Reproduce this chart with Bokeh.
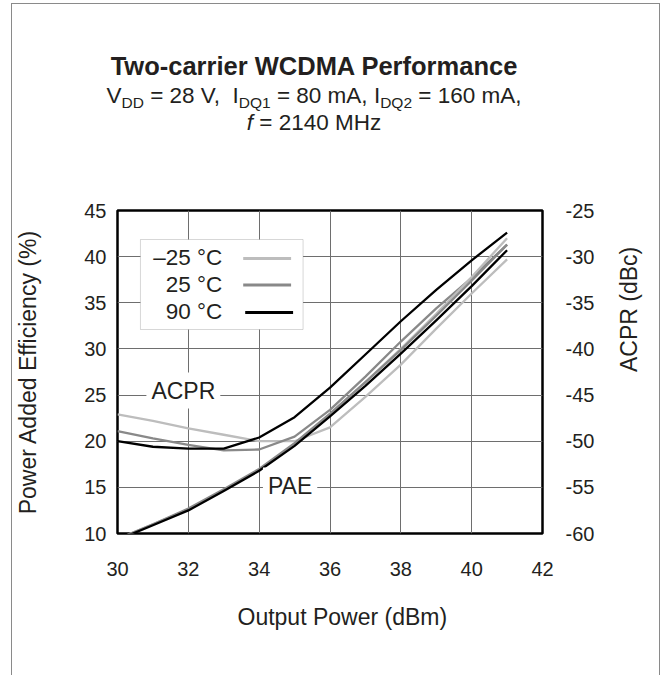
import math
from bokeh.plotting import figure
from bokeh.layouts import column
from bokeh.models import Range1d, LinearAxis, FixedTicker, Label, BoxAnnotation, Div, Title
from bokeh.embed import file_html
from bokeh.resources import INLINE

# ---------------- data ----------------
pout = [30, 31, 32, 33, 34, 35, 36, 37, 38, 39, 40, 41]

pae_m25 = [9.4, 11.0, 12.6, 14.7, 16.9, 19.7, 22.9, 26.4, 30.0, 33.8, 37.8, 42.0]
pae_25 = [9.4, 11.0, 12.7, 14.8, 17.0, 19.8, 23.0, 26.4, 29.9, 33.6, 37.4, 41.3]
pae_90 = [9.3, 10.9, 12.5, 14.6, 16.8, 19.5, 22.7, 26.0, 29.5, 33.1, 36.8, 40.7]

acpr_m25 = [-47.1, -47.8, -48.6, -49.3, -50.0, -50.0, -48.5, -45.2, -41.7, -37.8, -34.0, -30.3]
acpr_25 = [-48.9, -49.7, -50.4, -51.0, -50.9, -49.5, -46.6, -43.0, -39.2, -35.6, -32.3, -28.7]
acpr_90 = [-50.0, -50.6, -50.8, -50.8, -49.6, -47.4, -44.2, -40.6, -37.0, -33.6, -30.4, -27.4]

x_ticks = [30, 32, 34, 36, 38, 40, 42]
pae_ticks = [10, 15, 20, 25, 30, 35, 40, 45]
acpr_ticks = [-60, -55, -50, -45, -40, -35, -30, -25]

legend_labels = ["\u201325 \u00b0C", "25 \u00b0C", "90 \u00b0C"]
series_colors = ["#bdbdbd", "#898989", "#000000"]

title_text = "Two-carrier WCDMA Performance"
subtitle_1 = ("V<span class='s'>DD</span> = 28 V,&nbsp; I<span class='s'>DQ1</span> = 80 mA, "
              "I<span class='s'>DQ2</span> = 160 mA,")
subtitle_2 = "<i>f</i> = 2140 MHz"

FONT = "Liberation Sans"
TXT = "#231f20"

# ---------------- geometry (page pixels) ----------------
FX0, FX1, FY0, FY1 = 116, 542, 210, 533
XMIN, XMAX, YMIN, YMAX = 30, 42, 10, 45
LBL_SHIFT = -9   # empirical baseline correction for Label text


def dx(px):
    return XMIN + (px - FX0) * (XMAX - XMIN) / (FX1 - FX0)


def dy(py):
    return YMAX - (py - FY0) * (YMAX - YMIN) / (FY1 - FY0)


CX, CY = 12, 4          # canvas origin on page
W = 647
HH = 150                # header height
HM = 671 - HH           # main plot height
TCX = 314 - CX          # centre of title block (canvas px)


def top_for(baseline_page, size):
    return baseline_page - CY - size * (0.905 - (1.117 - 1.0) / 2.0)


hdr_html = (
    f"<style>.s{{font-size:15.5px;vertical-align:-5px;}}</style>"
    f"<div style=\"position:relative;width:{W}px;height:{HH}px;"
    f"font-family:'{FONT}',Arial,sans-serif;color:{TXT};\">"
    f"<div style=\"position:absolute;left:0;width:{2 * TCX}px;top:{top_for(76, 25.5):.1f}px;"
    f"text-align:center;font-size:25.5px;line-height:25.5px;font-weight:bold;white-space:nowrap;\">"
    f"{title_text}</div>"
    f"<div style=\"position:absolute;left:0;width:{2 * TCX}px;top:{top_for(104, 22.5):.1f}px;"
    f"text-align:center;font-size:22.5px;line-height:22.5px;white-space:nowrap;\">"
    f"{subtitle_1}</div>"
    f"<div style=\"position:absolute;left:0;width:{2 * TCX}px;top:{top_for(131, 22.5):.1f}px;"
    f"text-align:center;font-size:22.5px;line-height:22.5px;white-space:nowrap;\">"
    f"{subtitle_2}</div>"
    f"</div>"
)
hdr = Div(text=hdr_html, width=W, height=HH, margin=0)

# ---------------- main plot ----------------
top_b = FY0 - (CY + HH)
p = figure(
    width=W, height=HM,
    x_range=Range1d(XMIN, XMAX), y_range=Range1d(YMIN, YMAX),
    output_backend="svg", toolbar_location=None,
    min_border_left=FX0 - CX, min_border_top=top_b,
    min_border_right=W - (FX0 - CX) - (FX1 - FX0),
    min_border_bottom=HM - top_b - (FY1 - FY0),
)
p.extra_y_ranges = {"acpr": Range1d(-60, -25)}
p.background_fill_color = "white"
p.border_fill_color = "white"
p.outline_line_color = "black"
p.outline_line_width = 2.5


def style_axis(ax, standoff, label_standoff):
    ax.axis_line_color = None
    ax.major_tick_line_color = None
    ax.minor_tick_line_color = None
    ax.major_tick_out = 0
    ax.major_tick_in = 0
    ax.major_label_text_font = FONT
    ax.major_label_text_font_size = "20px"
    ax.major_label_text_color = TXT
    ax.major_label_standoff = standoff
    ax.axis_label_text_font = FONT
    ax.axis_label_text_font_size = "23px"
    ax.axis_label_text_font_style = "normal"
    ax.axis_label_text_color = TXT
    ax.axis_label_standoff = label_standoff


p.xaxis.ticker = FixedTicker(ticks=x_ticks)
style_axis(p.xaxis[0], 28, 24)

p.yaxis.ticker = FixedTicker(ticks=pae_ticks)
p.yaxis.axis_label = "Power Added Efficiency (%)"
style_axis(p.yaxis[0], 11, 40)

ax_r = LinearAxis(y_range_name="acpr", ticker=FixedTicker(ticks=acpr_ticks),
                  axis_label="ACPR (dBc)")
ax_r.major_label_overrides = {v: str(v) for v in acpr_ticks}
style_axis(ax_r, 23, 32)
try:
    ax_r.axis_label_orientation = math.pi / 2
except Exception:
    pass
p.add_layout(ax_r, "right")

# x-axis title, slightly right of the frame centre as in the reference
p.add_layout(Title(text="Output Power (dBm)", align="left", offset=120,
                   text_font=FONT, text_font_size="23px", text_font_style="normal",
                   text_color=TXT, vertical_align="top", standoff=51), "below")

p.xgrid.ticker = FixedTicker(ticks=x_ticks)
p.ygrid.ticker = FixedTicker(ticks=pae_ticks)
for g in (p.xgrid[0], p.ygrid[0]):
    g.grid_line_color = "#6e6e6e"
    g.grid_line_width = 1

pae_series = [pae_m25, pae_25, pae_90]
acpr_series = [acpr_m25, acpr_25, acpr_90]
for vals, col in zip(acpr_series, series_colors):
    p.line(pout, vals, y_range_name="acpr", line_color=col, line_width=2.3,
           line_join="round")
for vals, col in zip(pae_series, series_colors):
    p.line(pout, vals, line_color=col, line_width=2.3, line_join="round")

for txt, cx, base in (("ACPR", 182, 399), ("PAE", 289, 494)):
    p.add_layout(Label(x=dx(cx), y=dy(base + LBL_SHIFT), text=txt, text_align="center",
                       text_baseline="alphabetic", text_font=FONT,
                       text_font_size="23px", text_color=TXT,
                       background_fill_color="white", padding=5))

p.add_layout(BoxAnnotation(left=dx(139), right=dx(302), top=dy(239), bottom=dy(329),
                           fill_color="white", fill_alpha=1.0,
                           line_color="#7a7a7a", line_width=1))
for i, (lab, col) in enumerate(zip(legend_labels, series_colors)):
    yc = [258, 284.5, 312][i]
    p.add_layout(Label(x=dx(221), y=dy(yc + 8 + LBL_SHIFT), text=lab, text_align="right",
                       text_baseline="alphabetic", text_font=FONT,
                       text_font_size="22.5px", text_color=TXT))
    x0 = 242 if i < 2 else 244
    p.add_layout(BoxAnnotation(left=dx(x0), right=dx(x0 + 48),
                               top=dy(yc - 1.5), bottom=dy(yc + 1.5),
                               fill_color=col, fill_alpha=1.0, line_color=None))

layout = column(hdr, p, spacing=0)
layout.styles = {
    "margin-left": f"{CX - 1}px",
    "margin-top": f"{CY - 1}px",
    "border-left": "1px solid #8a8a8a",
    "border-top": "1px solid #8a8a8a",
    "border-right": "1px solid #8a8a8a",
}

open("out.html", "w").write(file_html(layout, INLINE))
